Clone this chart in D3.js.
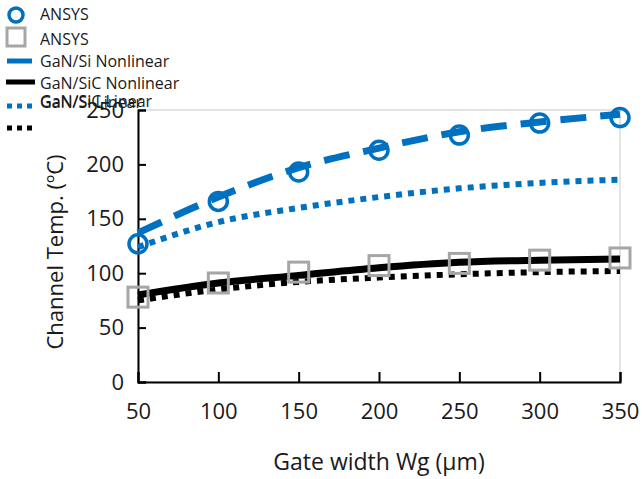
<!DOCTYPE html>
<html>
<head>
<meta charset="utf-8">
<script src="https://cdn.jsdelivr.net/npm/d3@7"></script>
<style>
  body { margin: 0; background: #fff; }
  text { font-family: "Open Sans", sans-serif; }
</style>
</head>
<body>
<div id="chart"></div>
<script>
var gateWidth = [50, 100, 150, 200, 250, 300, 350];
var ansysSi = [127, 166, 193, 213, 227, 238, 243];
var ansysSiC = [78, 91, 101, 107, 109, 112, 114];
var siNonlinear = [137, 170, 197, 215, 230, 239, 246];
var siLinear = [124, 147, 160, 170, 178, 183, 186];
var sicNonlinear = [80, 91, 98, 105, 110, 112, 113];
var sicLinear = [75, 85, 92, 96, 99, 101, 102];
var xTicks = [50, 100, 150, 200, 250, 300, 350];
var yTicks = [0, 50, 100, 150, 200, 250];

var w = 642, h = 479;
var blue = '#0070c0', grey = '#a6a6a6';

var svg = d3.select('#chart').append('svg')
  .attr('width', w).attr('height', h);

var x = d3.scaleLinear().domain([50, 350]).range([138, 620]);
var y = d3.scaleLinear().domain([0, 250]).range([382, 110]);

// plot box (light)
svg.append('rect')
  .attr('x', x(50)).attr('y', y(250))
  .attr('width', x(350) - x(50)).attr('height', y(0) - y(250))
  .attr('fill', 'none').attr('stroke', '#c8c8c8').attr('stroke-width', 1);

var xAxis = d3.axisBottom(x).tickValues(xTicks).tickSize(-10).tickPadding(21);
var yAxis = d3.axisLeft(y).tickValues(yTicks).tickSize(-8).tickPadding(14);

svg.append('g').attr('transform', 'translate(0,' + y(0) + ')')
  .call(xAxis)
  .call(g => g.select('.domain').attr('stroke-width', 2))
  .call(g => g.selectAll('.tick line').attr('stroke-width', 2))
  .call(g => g.selectAll('text').attr('font-size', 22).attr('fill', '#1a1a1a')
    .attr('font-family', '"Open Sans", sans-serif'));

svg.append('g').attr('transform', 'translate(' + x(50) + ',0)')
  .call(yAxis)
  .call(g => g.select('.domain').attr('stroke-width', 2))
  .call(g => g.selectAll('.tick line').attr('stroke-width', 2))
  .call(g => g.selectAll('text').attr('font-size', 22).attr('fill', '#1a1a1a')
    .attr('font-family', '"Open Sans", sans-serif'));

svg.append('text')
  .attr('x', 379).attr('y', 470)
  .attr('text-anchor', 'middle').attr('font-size', 23).attr('fill', '#1a1a1a')
  .text('Gate width Wg (\u00b5m)');

svg.append('text')
  .attr('transform', 'translate(63,' + 252 + ') rotate(-90)')
  .attr('text-anchor', 'middle').attr('font-size', 22).attr('fill', '#1a1a1a')
  .text('Channel Temp. (\u00baC)');

var curve = d3.line()
  .x((d, i) => x(gateWidth[i]))
  .y(d => y(d))
  .curve(d3.curveMonotoneX);

var lines = [
  { data: siLinear, color: blue, width: 6, dash: '6,6' },
  { data: sicLinear, color: '#000', width: 6, dash: '6,6' },
  { data: sicNonlinear, color: '#000', width: 7, dash: null },
  { data: siNonlinear, color: blue, width: 7, dash: '26,14' }
];

lines.forEach(function(l) {
  svg.append('path')
    .attr('d', curve(l.data))
    .attr('fill', 'none')
    .attr('stroke', l.color)
    .attr('stroke-width', l.width)
    .attr('stroke-dasharray', l.dash);
});

svg.selectAll('.sq').data(ansysSiC).enter().append('rect')
  .attr('x', (d, i) => x(gateWidth[i]) - 10)
  .attr('y', d => y(d) - 10)
  .attr('width', 20).attr('height', 20)
  .attr('fill', 'none').attr('stroke', grey).attr('stroke-width', 3);

svg.selectAll('.ci').data(ansysSi).enter().append('circle')
  .attr('cx', (d, i) => x(gateWidth[i]))
  .attr('cy', d => y(d))
  .attr('r', 9)
  .attr('fill', 'none').attr('stroke', blue).attr('stroke-width', 3.5);

// legend
var lg = svg.append('g');
lg.append('circle').attr('cx', 16).attr('cy', 15).attr('r', 7)
  .attr('fill', 'none').attr('stroke', blue).attr('stroke-width', 3.5);
lg.append('rect').attr('x', 7).attr('y', 28).attr('width', 18).attr('height', 18)
  .attr('fill', 'none').attr('stroke', grey).attr('stroke-width', 3);
lg.append('line').attr('x1', 7).attr('x2', 32).attr('y1', 61).attr('y2', 61)
  .attr('stroke', blue).attr('stroke-width', 5);
lg.append('line').attr('x1', 6).attr('x2', 35).attr('y1', 82).attr('y2', 82)
  .attr('stroke', '#000').attr('stroke-width', 5);
lg.append('line').attr('x1', 7).attr('x2', 35).attr('y1', 106).attr('y2', 106)
  .attr('stroke', blue).attr('stroke-width', 5).attr('stroke-dasharray', '5,5');
lg.append('line').attr('x1', 7).attr('x2', 35).attr('y1', 128).attr('y2', 128)
  .attr('stroke', '#000').attr('stroke-width', 5).attr('stroke-dasharray', '5,5');

var legendText = [
  ['ANSYS', 20], ['ANSYS', 45], ['GaN/Si Nonlinear', 67],
  ['GaN/SiC Nonlinear', 89], ['GaN/Si Linear', 108], ['GaN/SiC Linear', 107]
];
legendText.forEach(function(t) {
  lg.append('text').attr('x', 40).attr('y', t[1])
    .attr('font-size', 16).attr('fill', '#1a1a1a').text(t[0]);
});
</script>
</body>
</html>
